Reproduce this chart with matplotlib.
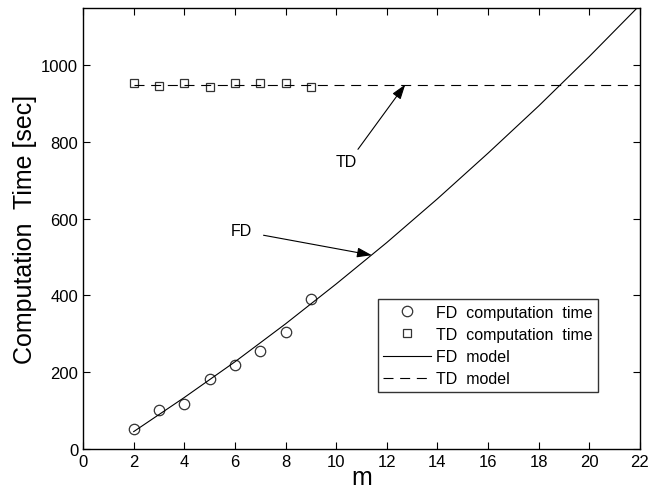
import numpy as np
import matplotlib.pyplot as plt

plt.rcParams['font.family'] = ['Liberation Sans', 'DejaVu Sans']

# measured run times
m_meas = [2, 3, 4, 5, 6, 7, 8, 9]
fd_time = [52, 102, 117, 181, 219, 256, 305, 392]
td_time = [955, 947, 953, 943, 954, 954, 953, 943]

# model curves
m_model = [2, 4, 6, 8, 10, 12, 14, 16, 18, 20, 22]
fd_model = [45, 134, 227, 326, 430, 538, 652, 771, 894, 1023, 1157]
td_model = [950, 950, 950, 950, 950, 950, 950, 950, 950, 950, 950]

fig = plt.figure(figsize=(6.49, 4.89), dpi=100)
ax = fig.add_axes([0.128, 0.080, 0.858, 0.902])

ax.plot(m_meas, fd_time, 'o', mfc='none', mec='#333333', ms=7.5, mew=0.9,
        label='FD  computation  time')
ax.plot(m_meas, td_time, 's', mfc='none', mec='#333333', ms=6, mew=0.9,
        label='TD  computation  time')
ax.plot(m_model, fd_model, '-', color='black', lw=0.8, label='FD  model')
ax.plot(m_model, td_model, '--', color='black', lw=0.8, dashes=(9, 6),
        label='TD  model')

arrow = dict(arrowstyle='-|>,head_length=0.9,head_width=0.3', color='black',
             lw=0.8, shrinkA=0, shrinkB=0)
ax.annotate('', xy=(12.73, 950), xytext=(10.86, 781), arrowprops=arrow)
ax.text(10.4, 750, 'TD', ha='center', va='center', fontsize=11.5)
ax.annotate('', xy=(11.41, 505), xytext=(7.13, 557), arrowprops=arrow)
ax.text(6.27, 570, 'FD', ha='center', va='center', fontsize=11.5)

ax.set_xlim(0, 22)
ax.set_ylim(0, 1150)
ax.set_xticks(np.arange(0, 23, 2))
ax.set_yticks(np.arange(0, 1001, 200))
ax.tick_params(direction='in', top=True, right=True, labelsize=12, length=5,
               width=0.8)
for s in ax.spines.values():
    s.set_linewidth(1.0)

ax.set_xlabel('m', fontsize=18, labelpad=-3)
ax.set_ylabel('Computation  Time [sec]', fontsize=18, labelpad=3)

leg = ax.legend(loc='lower right', bbox_to_anchor=(0.925, 0.129), fontsize=11.5,
                frameon=True, fancybox=False, edgecolor='black',
                handlelength=3.0, borderpad=0.35, labelspacing=0.45,
                handletextpad=0.3, borderaxespad=0)
leg.get_frame().set_linewidth(1.0)

fig.savefig('out.png', dpi=100)
